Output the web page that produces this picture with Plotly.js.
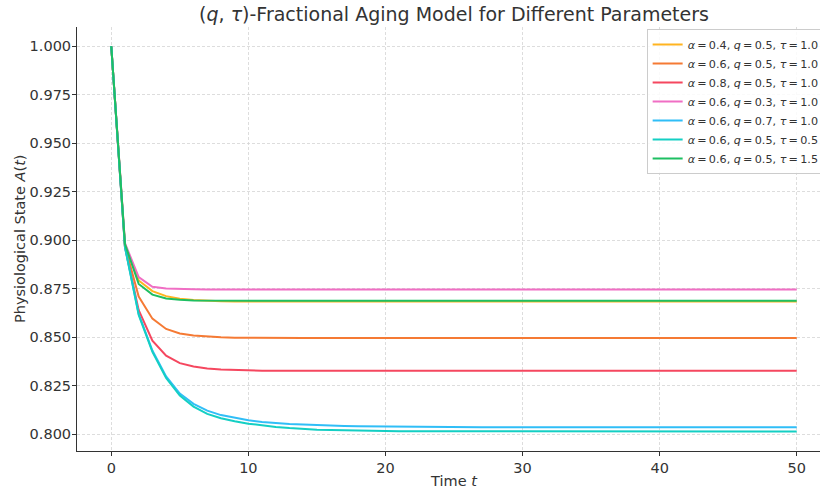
<!DOCTYPE html>
<html>
<head>
<meta charset="utf-8">
<script src="https://cdn.plot.ly/plotly-3.0.1.min.js"></script>
<style>
html, body { margin: 0; padding: 0; overflow: hidden; background: #fff; width: 820px; height: 489px; }
#chart { width: 840px; height: 489px; }
</style>
</head>
<body>
<div id="chart"></div>
<script>
const time = Array.from({length: 51}, (_, i) => i);

const T = "\u2009=\u2009";
const seriesNames = [
  "<i>α</i>" + T + "0.4, <i>q</i>" + T + "0.5, <i>τ</i>" + T + "1.0",
  "<i>α</i>" + T + "0.6, <i>q</i>" + T + "0.5, <i>τ</i>" + T + "1.0",
  "<i>α</i>" + T + "0.8, <i>q</i>" + T + "0.5, <i>τ</i>" + T + "1.0",
  "<i>α</i>" + T + "0.6, <i>q</i>" + T + "0.3, <i>τ</i>" + T + "1.0",
  "<i>α</i>" + T + "0.6, <i>q</i>" + T + "0.7, <i>τ</i>" + T + "1.0",
  "<i>α</i>" + T + "0.6, <i>q</i>" + T + "0.5, <i>τ</i>" + T + "0.5",
  "<i>α</i>" + T + "0.6, <i>q</i>" + T + "0.5, <i>τ</i>" + T + "1.5"
];

const colors = ["#FFB420", "#F57A34", "#F5475F", "#F06EC4", "#30BEF7", "#14CFC4", "#1EBF62"];

function flat(v, n) { return Array(n).fill(v); }

const alpha04 = [1.0, 0.8975, 0.8793, 0.8738, 0.8712, 0.8699, 0.8692, 0.8688, 0.8686, 0.8685, 0.8684].concat(flat(0.8684, 40));
const alpha06 = [1.0, 0.8970, 0.8710, 0.8596, 0.8543, 0.8520, 0.8509, 0.8503, 0.8500, 0.8498, 0.8497].concat(flat(0.8496, 40));
const alpha08 = [1.0, 0.8965, 0.8640, 0.8482, 0.8405, 0.8367, 0.8349, 0.8339, 0.8334, 0.8331, 0.8330].concat(flat(0.8328, 40));
const q03 = [1.0, 0.8985, 0.8810, 0.8760, 0.8751, 0.8748, 0.8747, 0.8746, 0.8746, 0.8746, 0.8746].concat(flat(0.8746, 40));
const q07 = [1.0, 0.8965, 0.8620, 0.8432, 0.8298, 0.8210, 0.8157, 0.8122, 0.8099, 0.8084, 0.8072,
             0.8064, 0.8058, 0.8053, 0.8050, 0.8047, 0.8045, 0.8043, 0.8042, 0.8041, 0.8040,
             0.8039, 0.8039, 0.8038, 0.8038, 0.8037].concat(flat(0.8036, 25));
const tau05 = [1.0, 0.8965, 0.8615, 0.8425, 0.8290, 0.8200, 0.8143, 0.8105, 0.8083, 0.8067, 0.8055,
               0.8045, 0.8038, 0.8032, 0.8027, 0.8024, 0.8022, 0.8020, 0.8019, 0.8018, 0.8017,
               0.8016, 0.8016, 0.8015].concat(flat(0.8015, 27));
const tau15 = [1.0, 0.8980, 0.8775, 0.8720, 0.8700, 0.8693, 0.8690, 0.8689, 0.8688, 0.8688, 0.8688].concat(flat(0.8688, 40));

const allSeries = [alpha04, alpha06, alpha08, q03, q07, tau05, tau15];

const xTicks = [0, 10, 20, 30, 40, 50];
const yTicks = [0.800, 0.825, 0.850, 0.875, 0.900, 0.925, 0.950, 0.975, 1.000];

const traces = allSeries.map((ys, i) => ({
  x: time, y: ys, type: "scatter", mode: "lines",
  name: seriesNames[i],
  line: {color: colors[i], width: 2},
  legendgroup: "g" + i
}));

const font = {family: "DejaVu Sans, sans-serif", color: "#333", size: 14.5};

const layout = {
  width: 840, height: 489,
  margin: {l: 77, r: 9, t: 27, b: 38},
  paper_bgcolor: "#fff", plot_bgcolor: "#fff",
  font: font,
  title: {
    text: "(<i>q</i>, <i>τ</i>)-Fractional Aging Model for Different Parameters",
    font: {family: "DejaVu Sans, sans-serif", size: 19, color: "#333"},
    x: 0.5, xref: "paper", xanchor: "center", y: 0.97, yanchor: "middle"
  },
  xaxis: {
    range: [-2.5, 52.5], tickvals: xTicks, ticktext: xTicks.map(String),
    showline: true, linecolor: "#333", linewidth: 1, mirror: false,
    ticks: "outside", ticklen: 4, tickcolor: "#333",
    showgrid: true, gridcolor: "#d4d4d4", griddash: "3px,2px", gridwidth: 0.8,
    zeroline: false,
    title: {text: "Time <i>t</i>", font: {size: 14.5, color: "#333"}, standoff: 6},
    tickfont: {size: 14.5, color: "#333"}
  },
  yaxis: {
    range: [0.7914, 1.0099], tickvals: yTicks, ticktext: yTicks.map(v => v.toFixed(3)),
    showline: true, linecolor: "#333", linewidth: 1, mirror: false,
    ticks: "outside", ticklen: 4, tickcolor: "#333",
    showgrid: true, gridcolor: "#d4d4d4", griddash: "3px,2px", gridwidth: 0.8,
    zeroline: false, ticklabelstandoff: -2,
    tickfont: {size: 14.5, color: "#333"}
  },
  annotations: [{
    text: "Physiological State <i>A</i>(<i>t</i>)",
    xref: "paper", yref: "paper", x: (20 - 77) / 754.5, y: 0.5,
    xanchor: "center", yanchor: "middle", textangle: -90, showarrow: false,
    font: {family: "DejaVu Sans, sans-serif", size: 14.5, color: "#333"}
  }],
  legend: {
    x: 0.7555, y: 0.995, xanchor: "left", yanchor: "top",
    bgcolor: "rgba(255,255,255,0.85)", bordercolor: "#cccccc", borderwidth: 1,
    font: {family: "DejaVu Sans, sans-serif", size: 11.2, color: "#333"},
    tracegroupgap: 0, itemwidth: 30
  },
  showlegend: true
};

Plotly.newPlot("chart", traces, layout, {displayModeBar: false, staticPlot: true});
</script>
</body>
</html>
